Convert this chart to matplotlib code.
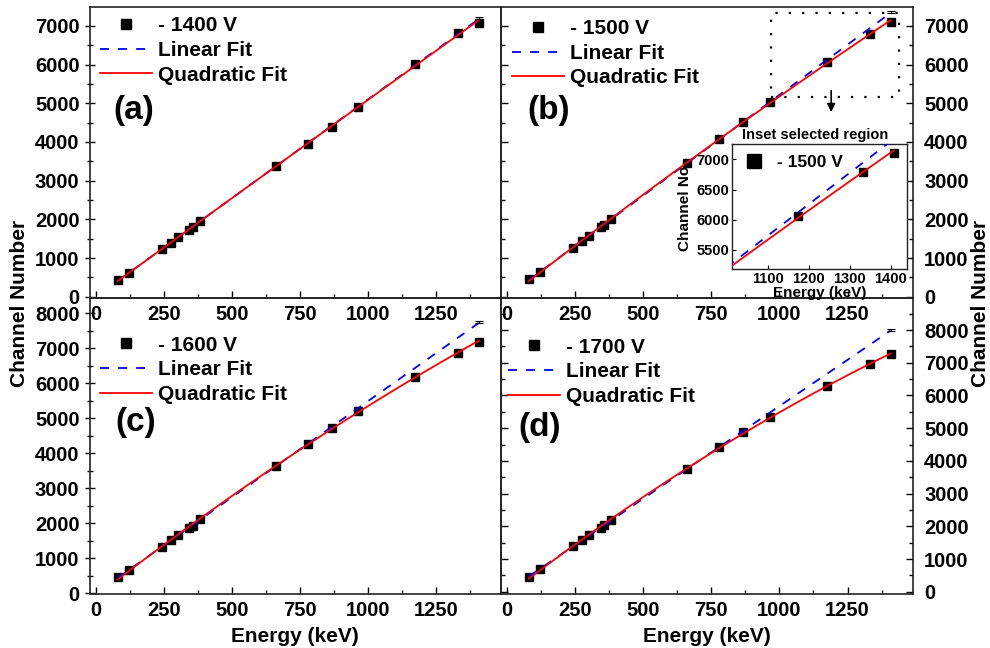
import numpy as np
import matplotlib.pyplot as plt
from matplotlib.ticker import MultipleLocator
from matplotlib.patches import Rectangle

plt.rcParams['font.family'] = ['Liberation Sans', 'DejaVu Sans']
plt.rcParams['font.weight'] = 'bold'
plt.rcParams['axes.labelweight'] = 'bold'

# gamma line energies (keV)
energy = np.array([81.0, 121.8, 244.7, 276.4, 302.9, 344.3, 356.0, 383.8,
                   661.7, 778.9, 867.4, 964.1, 1173.2, 1332.5, 1408.0])

# channel numbers for each bias voltage
ch_1400 = [431, 621, 1224, 1397, 1534, 1724, 1793, 1966, 3388, 3948, 4397, 4897, 6017, 6810, 7086]
ch_1500 = [448, 647, 1267, 1448, 1578, 1793, 1853, 2009, 3466, 4069, 4526, 5043, 6060, 6784, 7112]
ch_1600 = [457, 667, 1324, 1524, 1667, 1876, 1933, 2114, 3638, 4267, 4733, 5219, 6171, 6876, 7190]
ch_1700 = [459, 683, 1397, 1590, 1733, 1957, 2039, 2192, 3741, 4434, 4883, 5352, 6290, 6952, 7258]

volt_labels = ['- 1400 V', '- 1500 V', '- 1600 V', '- 1700 V']
panel_tags = ['(a)', '(b)', '(c)', '(d)']
channels = [ch_1400, ch_1500, ch_1600, ch_1700]
ymax = [7000, 7000, 8000, 8000]
ylims = [(-34, 7490), (-34, 7490), (-20, 8440), (-70, 8980)]

W, H = 990, 648
fig = plt.figure(figsize=(W / 100, H / 100), dpi=100)

cols = [(90, 501), (501, 913)]
rows = [(7, 298), (298, 594)]

def add_ax(x0, x1, y0, y1):
    return fig.add_axes([x0 / W, 1 - y1 / H, (x1 - x0) / W, (y1 - y0) / H])

# legend anchors / tag positions (axes fraction)
leg_pos = [(0.024, 0.968), (0.027, 0.958), (0.024, 0.873), (0.017, 0.866)]
tag_pos = [(0.056, 0.646), (0.063, 0.646), (0.061, 0.578), (0.041, 0.564)]

low = energy < 700  # linear fit on the low energy lines
fits = []
axes = []
for i in range(4):
    r, c = divmod(i, 2)
    ax = add_ax(cols[c][0], cols[c][1], rows[r][0], rows[r][1])
    ax.set_facecolor('none')
    axes.append(ax)
    ch = np.array(channels[i], dtype=float)
    lin = np.polyfit(energy[low], ch[low], 1)
    quad = np.polyfit(energy, ch, 2)
    fits.append((lin, quad))
    xs = np.linspace(energy[0], energy[-1], 300)

    ax.plot(energy, ch, 's', color='k', ms=6, label=volt_labels[i], zorder=2)
    ax.plot(xs, np.polyval(lin, xs), color='blue', lw=1.3, dashes=(5, 5),
            label='Linear Fit', zorder=3)
    ax.plot(xs, np.polyval(quad, xs), color='red', lw=1.3, label='Quadratic Fit', zorder=4)
    ax.errorbar(energy[-1], np.polyval(lin, energy[-1]), yerr=[[0], [45]],
                color='k', lw=0.8, capsize=3, capthick=0.8, zorder=5)

    ax.set_xlim(-21, 1490)
    ax.set_ylim(*ylims[i])
    ax.set_xticks(np.arange(0, 1251, 250))
    ax.xaxis.set_minor_locator(MultipleLocator(125))
    ax.set_yticks(np.arange(0, ymax[i] + 1, 1000))
    ax.yaxis.set_minor_locator(MultipleLocator(500))

    ax.tick_params(axis='x', which='both', direction='in', top=False,
                   labelsize=14.5, pad=5, width=1)
    ax.tick_params(axis='x', which='major', length=5)
    ax.tick_params(axis='x', which='minor', length=3)
    if c == 0:
        ax.tick_params(axis='y', which='both', direction='inout', left=True, right=False,
                       labelleft=True, labelsize=14.5, pad=4, width=1)
        ax.tick_params(axis='y', which='major', length=7)
        ax.tick_params(axis='y', which='minor', length=4)
    else:
        ax.tick_params(axis='y', which='both', direction='in', left=True, right=True,
                       labelleft=False, labelright=True, labelsize=14.5, pad=8, width=1)
        ax.tick_params(axis='y', which='major', length=5)
        ax.tick_params(axis='y', which='minor', length=3)
    for s in ax.spines.values():
        s.set_linewidth(1.2)
        s.set_color('#222222')

    ax.legend(loc='upper left', bbox_to_anchor=leg_pos[i], frameon=False,
              prop=dict(size=15, weight='bold'), handlelength=2.5, handletextpad=0.3,
              labelspacing=0.27, borderaxespad=0, borderpad=0, markerscale=1.25)
    ax.text(tag_pos[i][0], tag_pos[i][1], panel_tags[i], transform=ax.transAxes,
            fontsize=24, fontweight='bold', va='center', ha='left')

# selected region + arrow in panel (b)
axb = axes[1]
axb.add_patch(Rectangle((969, 5164), 470, 2172, fill=False, ec='k', lw=1.6,
                        ls=(0, (1, 5)), zorder=1))
axb.annotate('', xy=(1190, 4700), xytext=(1190, 5400),
             arrowprops=dict(arrowstyle='-|>', color='k', lw=1.2, mutation_scale=12))

# inset
axin = add_ax(732, 907, 144, 269)
lin_b, quad_b = fits[1]
xi = np.linspace(1000, energy[-1], 100)
axin.plot(energy[-3:], np.array(ch_1500)[-3:], 's', color='k', ms=6, label='- 1500 V', zorder=2)
axin.plot(xi, np.polyval(lin_b, xi), color='blue', lw=1.3, dashes=(5, 5), zorder=3)
axin.plot(xi, np.polyval(quad_b, xi), color='red', lw=1.3, zorder=4)
axin.set_xlim(1013, 1440)
axin.set_ylim(5185, 7255)
axin.set_xticks([1100, 1200, 1300, 1400])
axin.set_yticks([5500, 6000, 6500, 7000])
axin.tick_params(which='both', direction='in', labelsize=10.5, pad=2, length=3, width=0.8)
axin.set_xlabel('Energy (keV)', fontsize=11, labelpad=0)
axin.set_ylabel('Channel No.', fontsize=11, labelpad=3)
for s in axin.spines.values():
    s.set_linewidth(1.0)
    s.set_color('#222222')
axin.legend(loc='upper left', bbox_to_anchor=(0.05, 0.91), frameon=False,
            prop=dict(size=12.5, weight='bold'), handlelength=1.5, handletextpad=0.6,
            borderaxespad=0, borderpad=0, markerscale=1.7)
fig.text(815 / W, 1 - 135 / H, 'Inset selected region', fontsize=10.5,
         fontweight='bold', ha='center', va='center')

# shared axis titles
fig.text(20 / W, 1 - 303 / H, 'Channel Number', rotation=90, fontsize=15,
         fontweight='bold', ha='center', va='center')
fig.text(980 / W, 1 - 303 / H, 'Channel Number', rotation=90, fontsize=15,
         fontweight='bold', ha='center', va='center')
fig.text(295 / W, 1 - 637 / H, 'Energy (keV)', fontsize=15, fontweight='bold',
         ha='center', va='center')
fig.text(707 / W, 1 - 637 / H, 'Energy (keV)', fontsize=15, fontweight='bold',
         ha='center', va='center')

fig.savefig('out.png', dpi=100)
